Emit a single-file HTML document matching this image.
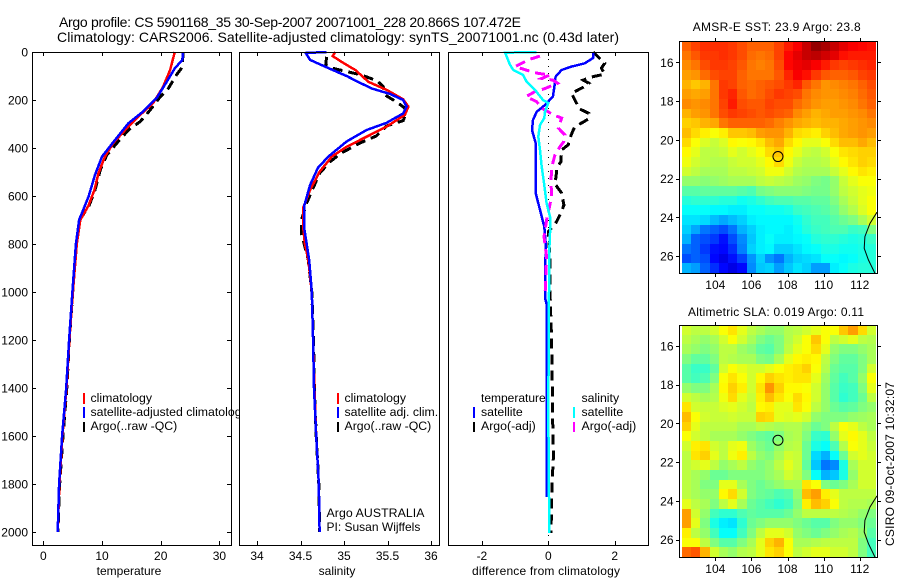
<!DOCTYPE html>
<html lang="en">
<head>
<meta charset="utf-8">
<title>Argo profile CS 5901168_35</title>
<style>
html,body{margin:0;padding:0;background:#fff;}
svg{display:block;font-family:"Liberation Sans",sans-serif;font-size:12px;fill:#000;}
text{fill:#000;stroke:none;}
.frame{fill:none;stroke:#000;stroke-width:1;shape-rendering:crispEdges;}
.bg{fill:#fff;stroke:none;}
.lg{font-size:12.3px;}
</style>
</head>
<body>
<svg id="chart" width="900" height="580" viewBox="0 0 900 580">
  <g id="titles">
    <text x="59" y="27" font-size="14" textLength="462">Argo profile: CS 5901168_35 30-Sep-2007 20071001_228 20.866S 107.472E</text>
    <text x="57" y="42" font-size="14" textLength="562">Climatology: CARS2006. Satellite-adjusted climatology: synTS_20071001.nc (0.43d later)</text>
  </g>

  <g id="panel-temp">
    <rect class="bg" x="32.5" y="52.5" width="199" height="493"/>
    <g id="temp-series"></g>
    <g id="temp-ticks"></g>
    <g>
      <rect x="83" y="393" width="2" height="11" fill="#f00"/>
      <rect x="83" y="407" width="2" height="11" fill="#00f"/>
      <rect x="83" y="422" width="2" height="10" fill="#000"/>
      <text class="lg" x="90.5" y="402">climatology</text>
      <text class="lg" x="90.5" y="416">satellite-adjusted climatology</text>
      <text class="lg" x="90.5" y="430">Argo(..raw -QC)</text>
    </g>
    <rect class="frame" x="32.5" y="52.5" width="199" height="493"/>
    <text x="129" y="575" text-anchor="middle">temperature</text>
  </g>

  <g id="panel-sal">
    <rect class="bg" x="239.5" y="52.5" width="200" height="493"/>
    <g id="sal-series"></g>
    <g id="sal-ticks"></g>
    <g>
      <rect x="337" y="393" width="2" height="11" fill="#f00"/>
      <rect x="337" y="407" width="2" height="11" fill="#00f"/>
      <rect x="337" y="422" width="2" height="10" fill="#000"/>
      <text class="lg" x="344.5" y="402">climatology</text>
      <text class="lg" x="344.5" y="416">satellite adj. clim.</text>
      <text class="lg" x="344.5" y="430">Argo(..raw -QC)</text>
    </g>
    <text class="lg" x="326.5" y="517" textLength="98">Argo AUSTRALIA</text>
    <text x="326.5" y="531">PI: Susan Wijffels</text>
    <rect class="frame" x="239.5" y="52.5" width="200" height="493"/>
    <text x="337" y="575" text-anchor="middle">salinity</text>
  </g>

  <g id="panel-diff">
    <rect class="bg" x="448.5" y="52.5" width="200" height="493"/>
    <line x1="548.5" y1="52" x2="548.5" y2="545" stroke="#000" stroke-width="1" stroke-dasharray="1 6" shape-rendering="crispEdges"/>
    <g>
      <text x="481" y="402">temperature</text>
      <text class="lg" x="481" y="416">satellite</text>
      <text class="lg" x="481" y="430">Argo(-adj)</text>
      <text class="lg" x="581.5" y="402">salinity</text>
      <text class="lg" x="581.5" y="416">satellite</text>
      <text class="lg" x="581.5" y="430">Argo(-adj)</text>
      <rect x="473" y="407" width="2" height="11" fill="#00f"/>
      <rect x="473" y="422" width="2" height="10" fill="#000"/>
      <rect x="573" y="407" width="2" height="11" fill="#0ff"/>
      <rect x="573" y="422" width="2" height="10" fill="#f0f"/>
    </g>
    <g id="diff-series"></g>
    <g id="diff-ticks"></g>
    <rect class="frame" x="448.5" y="52.5" width="200" height="493"/>
    <text x="546" y="575" text-anchor="middle" textLength="148">difference from climatology</text>
  </g>

  <g id="map-sst">
    <text x="776.7" y="31" text-anchor="middle" textLength="168">AMSR-E SST: 23.9 Argo: 23.8</text>
  </g>
  <g id="map-sla">
    <text x="776" y="316" text-anchor="middle" textLength="176">Altimetric SLA: 0.019 Argo: 0.11</text>
  </g>
  <text transform="translate(894,546) rotate(-90)" textLength="164">CSIRO 09-Oct-2007 10:32:07</text>
</svg>

<script>
// ---------- profile data ----------
const depthTicks = [0, 200, 400, 600, 800, 1000, 1200, 1400, 1600, 1800, 2000];
const tempTicks = [0, 10, 20, 30];
const salTicks = [34, 34.5, 35, 35.5, 36];
const diffTicks = [-2, 0, 2];

const tempClimDepth = [0, 75, 146, 213, 262, 318, 380, 436, 505, 575, 640, 700, 800, 1000, 1200, 1400, 1600, 1800, 2000];
const tempClimValues = [22.4, 21.6, 20.4, 18.7, 16.5, 14.2, 11.9, 10.5, 9.4, 8.7, 7.7, 6.3, 5.7, 5.05, 4.45, 3.95, 3.25, 2.75, 2.45];
const tempSatDepth = [0, 33, 68, 125, 192, 248, 297, 367, 436, 512, 603, 700, 800, 1000, 1200, 1400, 1600, 1800, 2000];
const tempSatValues = [23.8, 23.7, 22.4, 21, 19.3, 17, 14.5, 12.2, 10, 8.8, 7.7, 6.1, 5.55, 4.95, 4.4, 3.9, 3.2, 2.7, 2.45];
const tempArgoDepth = [0, 62, 95, 152, 187, 242, 290, 325, 375, 430, 492, 575, 640, 700, 800, 1000, 1200, 1400, 1600, 1800, 2000];
const tempArgoValues = [23.8, 23.7, 22.7, 21.3, 19.9, 18.2, 16.5, 14.5, 12.7, 10.8, 9.7, 8.8, 7.8, 6.2, 5.6, 5.0, 4.45, 4.0, 3.35, 2.8, 2.5];

const salClimDepth = [0, 17, 45, 75, 124, 158, 197, 228, 262, 311, 353, 395, 436, 499, 575, 650, 728, 797, 867, 1000, 1200, 1400, 1600, 1800, 2000];
const salClimValues = [34.9, 34.87, 34.99, 35.13, 35.28, 35.49, 35.68, 35.74, 35.7, 35.49, 35.26, 35.03, 34.86, 34.72, 34.61, 34.53, 34.53, 34.55, 34.59, 34.63, 34.645, 34.66, 34.68, 34.71, 34.72];
const salSatDepth = [0, 4, 33, 54, 75, 100, 124, 152, 175, 200, 228, 256, 295, 325, 373, 436, 483, 554, 644, 728, 797, 867, 1000, 1200, 1400, 1600, 1800, 2000];
const salSatValues = [34.8, 34.56, 34.61, 34.74, 34.87, 35.03, 35.16, 35.32, 35.53, 35.68, 35.72, 35.68, 35.49, 35.26, 35.03, 34.82, 34.7, 34.61, 34.54, 34.54, 34.57, 34.6, 34.63, 34.645, 34.655, 34.68, 34.71, 34.72];
const salArgoDepth = [20, 54, 67, 78, 96, 120, 144, 179, 207, 234, 258, 286, 308, 350, 380, 421, 457, 505, 596, 630, 700, 755, 811, 867, 1000, 1200, 1400, 1600, 1800, 2000];
const salArgoValues = [34.8, 34.79, 34.86, 34.99, 35.2, 35.38, 35.45, 35.47, 35.6, 35.7, 35.71, 35.68, 35.49, 35.37, 35.18, 34.97, 34.84, 34.72, 34.61, 34.57, 34.51, 34.51, 34.55, 34.59, 34.63, 34.65, 34.66, 34.68, 34.71, 34.72];

const diffTempSatDepth = [0, 25, 47, 61, 75, 103, 130, 186, 221, 249, 283, 325, 380, 429, 478, 533, 588, 658, 728, 811, 900, 1025, 1050, 1855];
const diffTempSatValues = [1.35, 1.35, 1.1, 0.7, 0.4, 0.22, 0.2, 0.14, -0.1, -0.35, -0.46, -0.49, -0.38, -0.38, -0.38, -0.38, -0.38, -0.25, -0.12, -0.07, -0.1, -0.1, -0.05, -0.05];
const diffSalSatDepth = [0, 3, 54, 75, 96, 124, 158, 200, 213, 249, 275, 304, 353, 408, 478, 546, 630, 686, 755, 853, 1000, 1500, 2004];
const diffSalSatValues = [-0.35, -1.3, -1.15, -1.05, -0.76, -0.65, -0.4, -0.16, 0, -0.1, -0.12, -0.25, -0.3, -0.25, -0.2, -0.13, -0.05, 0.05, 0.05, 0.02, 0.02, 0, 0.03];
const diffTempArgoDepth = [0, 47, 67, 92, 104, 117, 130, 147, 172, 213, 234, 256, 280, 312, 325, 360, 387, 408, 457, 483, 525, 546, 588, 638, 665, 707, 749, 867, 1000, 1200, 1400, 1600, 1671, 1800, 2004];
const diffTempArgoValues = [1.35, 1.7, 1.6, 1.7, 1.3, 1.05, 1.22, 1.05, 0.7, 0.85, 0.9, 1.22, 1.2, 0.8, 0.75, 0.65, 0.6, 0.4, 0.38, 0.26, 0.23, 0.18, 0.4, 0.47, 0.4, 0.25, 0, 0.05, 0.05, 0.1, 0.12, 0.14, 0.16, 0.11, 0.08];
const diffSalArgoDepth = [17, 30, 40, 61, 78, 89, 96, 110, 117, 130, 152, 165, 186, 207, 234, 249, 262, 275, 317, 346, 373, 395, 429, 483, 540, 603, 700, 769, 853, 1020];
const diffSalArgoValues = [-0.25, -0.55, -0.7, -1, -0.6, -0.3, 0.05, -0.2, 0.14, 0.28, -0.1, -0.4, -0.67, -0.35, -0.2, 0, 0.14, 0.4, 0.3, 0.5, 0.47, 0.35, 0.2, 0.1, 0.08, 0.1, -0.05, -0.13, -0.05, -0.1];

// ---------- map data ----------
const lonTicks = [104, 106, 108, 110, 112];
const latTicks = [16, 18, 20, 22, 24, 26];
const coastLon = [112.96, 112.57, 112.29, 112.25, 112.48, 112.85];
const coastLat = [23.74, 24.31, 25.0, 25.6, 26.2, 26.9];
const floatLon = [107.472];
const floatLat = [20.866];

// jet colour index (0 = dark blue, 100 = dark red), one row per half-degree of latitude
const sstGrid = [
[78,81,83,83,83,82,80,78,78,78,81,85,88,93,98,96,93,90,88,87,86],
[76,79,82,82,83,82,80,77,76,77,81,87,90,93,94,92,90,86,85,85,85],
[74,76,80,82,82,81,79,76,75,76,80,87,89,90,88,85,82,81,82,83,84],
[72,73,77,80,81,81,78,76,76,76,79,84,88,86,82,79,78,78,79,81,82],
[70,68,70,76,82,81,78,77,78,79,80,82,84,79,76,73,74,75,76,78,80],
[72,71,72,76,82,84,79,77,78,80,82,81,80,76,74,73,73,74,75,77,79],
[74,73,74,76,81,85,80,79,79,81,80,80,77,75,73,72,72,73,74,76,78],
[70,72,73,76,80,82,81,80,79,80,79,78,74,72,70,71,72,72,73,74,76],
[67,68,70,71,76,78,78,78,78,77,75,73,71,70,69,70,70,71,72,73,74],
[69,66,64,62,64,68,68,69,72,73,73,70,66,65,64,67,69,71,72,73,72],
[66,62,59,57,59,63,62,63,65,69,71,66,63,60,60,62,66,69,69,71,69],
[63,60,56,56,57,60,58,60,62,66,68,63,60,57,56,58,62,65,66,67,67],
[61,58,56,55,55,57,58,58,60,63,66,61,57,55,55,56,60,63,65,67,66],
[58,56,54,54,54,56,56,57,58,61,61,58,55,54,54,54,57,60,63,65,64],
[52,52,51,52,53,54,54,54,56,57,56,55,53,52,50,49,52,57,60,62,62],
[46,46,47,47,47,47,46,45,49,50,51,51,51,50,49,49,52,56,58,60,61],
[41,42,42,42,41,41,39,40,42,44,45,45,46,46,47,47,50,54,57,60,62],
[38,38,38,37,37,36,36,38,38,39,39,40,43,44,45,46,48,52,55,59,62],
[35,35,34,31,29,31,33,36,37,37,37,37,39,42,44,44,46,48,50,54,58],
[33,29,24,22,20,24,30,33,36,37,37,36,38,41,43,44,45,45,43,44,50],
[30,22,20,18,14,20,26,32,36,38,36,36,37,38,41,42,42,41,40,41,43],
[24,22,18,14,13,17,25,33,36,37,33,33,35,37,38,40,40,39,39,40,41],
[20,22,20,13,10,14,19,27,33,27,24,30,33,34,35,38,38,37,38,40,41],
[30,28,22,17,13,10,13,26,32,33,28,32,35,33,28,28,36,38,40,41,41]
];
const slaGrid = [
[58,56,56,58,62,65,60,56,54,52,52,55,56,58,60,62,62,68,72,66,58],
[56,54,52,54,58,62,58,54,50,48,50,55,58,62,68,62,56,58,60,56,55],
[54,52,50,52,56,56,53,51,47,46,50,56,60,62,66,60,52,50,50,52,54],
[50,47,47,50,56,55,54,54,50,49,54,60,63,64,63,56,50,47,47,50,54],
[46,43,43,47,58,62,60,58,58,60,62,64,65,67,62,55,48,46,46,50,58],
[46,44,45,50,62,65,62,58,63,67,65,64,65,65,60,53,47,44,46,52,62],
[52,50,50,54,63,67,64,58,65,73,67,63,63,62,58,52,46,43,44,50,60],
[58,56,54,55,61,66,60,57,64,69,65,62,66,63,58,52,46,42,44,48,56],
[65,58,57,57,59,60,58,56,63,64,60,60,65,62,56,52,48,46,47,50,52],
[69,62,58,57,57,58,57,57,67,66,60,59,60,58,52,50,50,50,52,53,54],
[67,60,56,56,56,56,54,54,56,55,54,55,55,52,48,50,56,62,60,56,54],
[62,58,56,54,54,54,52,50,48,47,50,54,55,50,43,42,52,60,63,60,56],
[58,64,65,58,56,60,61,53,50,48,52,55,56,48,40,38,45,55,62,60,57],
[56,65,67,60,56,61,64,56,52,50,54,58,57,48,34,30,38,48,58,60,58],
[56,58,60,56,52,54,56,52,50,52,56,60,57,47,32,24,26,40,54,58,58],
[56,54,52,48,48,50,50,50,50,52,54,58,56,50,38,30,32,40,52,58,58],
[56,54,50,50,60,60,54,50,48,50,52,54,54,65,62,50,48,50,54,58,58],
[56,54,52,52,63,66,58,50,48,47,45,46,52,69,72,64,60,56,56,56,56],
[60,56,54,50,56,60,54,48,46,44,42,44,50,64,69,67,62,56,55,55,54],
[72,58,52,44,42,42,45,47,46,46,46,48,52,56,56,56,56,55,54,52,50],
[72,60,50,40,36,35,42,48,50,52,52,52,50,48,46,46,50,52,52,50,48],
[64,56,52,44,38,38,44,50,56,60,60,58,52,50,48,50,52,54,55,52,46],
[62,62,56,50,46,46,50,54,60,67,70,62,54,54,55,56,56,56,56,50,44],
[77,79,70,58,54,52,55,56,60,65,67,62,56,58,60,60,58,58,56,50,44]
];

// ---------- helpers ----------
const NS = 'http://www.w3.org/2000/svg';
function make(tag, parent) {
  const el = document.createElementNS(NS, tag);
  parent.appendChild(el);
  return el;
}
const depthY = d => 52 + 0.24 * d;
const tempX = v => 43.3 + 5.87 * v;
const salX = v => 344 + 87 * (v - 35);
const diffX = v => 548.3 + 33.2 * v;

function drawProfile(parent, xFn, depths, values, color, dashed, name) {
  const p = make('polyline', parent);
  
  
  p.setAttribute('points', depths.map((d, i) => xFn(values[i]).toFixed(1) + ',' + depthY(d).toFixed(1)).join(' '));
  p.setAttribute('fill', 'none');
  p.setAttribute('stroke', color);
  p.setAttribute('stroke-width', dashed ? '3' : '2.5');
  p.setAttribute('shape-rendering', 'crispEdges');
  if (dashed) p.setAttribute('stroke-dasharray', '10 6');
}

function drawProfileTicks(parent, xFn, ticks, labelFn) {
  ticks.forEach(t => {
    const x = Math.round(xFn(t)) + 0.5;
    [[52, 56], [545, 541]].forEach(pair => {
      const l = make('line', parent);
      
      
      l.setAttribute('x1', x); l.setAttribute('x2', x);
      l.setAttribute('y1', pair[0]); l.setAttribute('y2', pair[1]);
      l.setAttribute('stroke', '#000');
      l.setAttribute('shape-rendering', 'crispEdges');
    });
    const txt = make('text', parent);
    
    
    txt.setAttribute('x', xFn(t));
    txt.setAttribute('y', 560);
    txt.setAttribute('text-anchor', 'middle');
    txt.textContent = labelFn(t);
  });
}

function jet(v) {
  const t = Math.max(0, Math.min(1, v / 100));
  const c = x => Math.round(255 * Math.max(0, Math.min(1, 1.5 - Math.abs(4 * t - x))));
  return 'rgb(' + c(3) + ',' + c(2) + ',' + c(1) + ')';
}

function drawMap(parent, grid, box) {
  const lonX = lon => 715.3 + 18.05 * (lon - 104);
  const latY = lat => box.y16 + 19.37 * (lat - 16);
  const cellsG = make('g', parent);
  
  
  const left = 682, right = 876;
  const cw = (right - left) / grid[0].length;
  const ch = (box.bottom - box.top) / grid.length;
  grid.forEach((row, j) => row.forEach((v, i) => {
    const r = make('rect', cellsG);
    
    
    const x0 = Math.round(left + i * cw), x1 = Math.round(left + (i + 1) * cw);
    const y0 = Math.round(box.top + j * ch), y1 = Math.round(box.top + (j + 1) * ch);
    r.setAttribute('x', x0); r.setAttribute('y', y0);
    r.setAttribute('width', x1 - x0); r.setAttribute('height', y1 - y0);
    r.setAttribute('fill', jet(v));
    r.setAttribute('shape-rendering', 'crispEdges');
  }));

  const coast = make('polyline', parent);
  
  
  coast.setAttribute('points', coastLon.map((lon, i) => lonX(lon).toFixed(1) + ',' + latY(coastLat[i]).toFixed(1)).join(' '));
  coast.setAttribute('fill', 'none');
  coast.setAttribute('stroke', '#000');
  coast.setAttribute('stroke-width', '1');

  const marker = make('circle', parent);
  
  
  marker.setAttribute('cx', lonX(floatLon[0]));
  marker.setAttribute('cy', latY(floatLat[0]));
  marker.setAttribute('r', 5);
  marker.setAttribute('fill', 'none');
  marker.setAttribute('stroke', '#000');
  marker.setAttribute('stroke-width', '1');

  const frame = make('rect', parent);
  
  
  frame.setAttribute('class', 'frame');
  frame.setAttribute('x', 679.5);
  frame.setAttribute('y', box.top + 0.5);
  frame.setAttribute('width', 198);
  frame.setAttribute('height', box.bottom - box.top);

  lonTicks.forEach(lon => {
    const x = Math.round(lonX(lon)) + 0.5;
    [[box.top - 3, box.top], [box.bottom, box.bottom + 4]].forEach(pair => {
      const l = make('line', parent);
      
      
      l.setAttribute('x1', x); l.setAttribute('x2', x);
      l.setAttribute('y1', pair[0]); l.setAttribute('y2', pair[1]);
      l.setAttribute('stroke', '#000');
      l.setAttribute('shape-rendering', 'crispEdges');
    });
    const txt = make('text', parent);
    
    
    txt.setAttribute('x', lonX(lon));
    txt.setAttribute('y', box.bottom + 16);
    txt.setAttribute('text-anchor', 'middle');
    txt.textContent = lon;
  });
  latTicks.forEach(lat => {
    const y = Math.round(latY(lat)) + 0.5;
    [[676, 680], [878, 881]].forEach(pair => {
      const l = make('line', parent);
      
      
      l.setAttribute('y1', y); l.setAttribute('y2', y);
      l.setAttribute('x1', pair[0]); l.setAttribute('x2', pair[1]);
      l.setAttribute('stroke', '#000');
      l.setAttribute('shape-rendering', 'crispEdges');
    });
    const txt = make('text', parent);
    
    
    txt.setAttribute('x', 673.5);
    txt.setAttribute('y', latY(lat) + 4.5);
    txt.setAttribute('text-anchor', 'end');
    txt.textContent = lat;
  });
}

// ---------- draw ----------
const tempSeries = document.getElementById('temp-series');
drawProfile(tempSeries, tempX, tempArgoDepth, tempArgoValues, '#000', true, 'temperature-argo-line');
drawProfile(tempSeries, tempX, tempClimDepth, tempClimValues, '#f00', false, 'temperature-climatology-line');
drawProfile(tempSeries, tempX, tempSatDepth, tempSatValues, '#00f', false, 'temperature-satellite-line');

const salSeries = document.getElementById('sal-series');
drawProfile(salSeries, salX, salArgoDepth, salArgoValues, '#000', true, 'salinity-argo-line');
drawProfile(salSeries, salX, salClimDepth, salClimValues, '#f00', false, 'salinity-climatology-line');
drawProfile(salSeries, salX, salSatDepth, salSatValues, '#00f', false, 'salinity-satellite-line');

const diffSeries = document.getElementById('diff-series');
drawProfile(diffSeries, diffX, diffTempArgoDepth, diffTempArgoValues, '#000', true, 'temperature-argo-difference-line');
drawProfile(diffSeries, diffX, diffTempSatDepth, diffTempSatValues, '#00f', false, 'temperature-satellite-difference-line');
drawProfile(diffSeries, diffX, diffSalArgoDepth, diffSalArgoValues, '#f0f', true, 'salinity-argo-difference-line');
drawProfile(diffSeries, diffX, diffSalSatDepth, diffSalSatValues, '#0ff', false, 'salinity-satellite-difference-line');

const tempTicksG = document.getElementById('temp-ticks');
drawProfileTicks(tempTicksG, tempX, tempTicks, t => t);
drawProfileTicks(document.getElementById('sal-ticks'), salX, salTicks, t => t);
drawProfileTicks(document.getElementById('diff-ticks'), diffX, diffTicks, t => t);

depthTicks.forEach(d => {
  const y = Math.round(depthY(d)) + 0.5;
  [[32, 36], [231, 227]].forEach(pair => {
    const l = make('line', tempTicksG);
    
    
    l.setAttribute('y1', y); l.setAttribute('y2', y);
    l.setAttribute('x1', pair[0]); l.setAttribute('x2', pair[1]);
    l.setAttribute('stroke', '#000');
    l.setAttribute('shape-rendering', 'crispEdges');
  });
  const txt = make('text', tempTicksG);
  
  
  txt.setAttribute('x', 28);
  txt.setAttribute('y', depthY(d) + 4.5);
  txt.setAttribute('text-anchor', 'end');
  txt.textContent = d;
});

drawMap(document.getElementById('map-sst'), sstGrid, {top: 41, bottom: 273, y16: 62.3});
drawMap(document.getElementById('map-sla'), slaGrid, {top: 325, bottom: 557, y16: 346});
</script>
</body>
</html>
